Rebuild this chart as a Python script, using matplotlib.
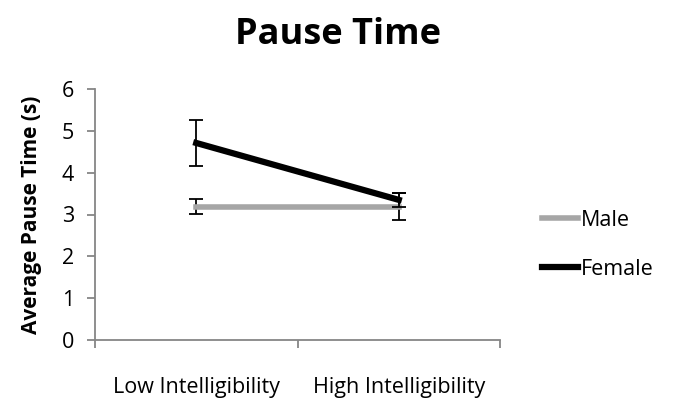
import matplotlib
matplotlib.use("Agg")
import matplotlib.pyplot as plt
from matplotlib.lines import Line2D

categories = ["Low Intelligibility", "High Intelligibility"]
male = [3.19, 3.19]
male_err = [0.18, 0.33]
female = [4.71, 3.35]
female_err = [0.56, 0.17]
yticks = [0, 1, 2, 3, 4, 5, 6]

plt.rcParams['font.family'] = ['Open Sans', 'DejaVu Sans']

fig = plt.figure(figsize=(6.81, 4.0), dpi=100)
ax = fig.add_axes([95/681, 1-340/400, 405/681, 251/400])

x = [0.5, 1.5]
grey = "#A6A6A6"
ax.errorbar(x, male, yerr=male_err, color=grey, lw=4, ecolor="black",
            elinewidth=1.3, capsize=5, capthick=1.3, zorder=3)
ax.errorbar(x, female, yerr=female_err, color="black", lw=4.5, ecolor="black",
            elinewidth=1.3, capsize=5, capthick=1.3, zorder=4)

ax.set_xlim(0, 2)
ax.set_ylim(0, 6)
ax.set_yticks(yticks)
ax.set_xticks([0, 1, 2])
ax.set_xticklabels([])
ax.set_xticks(x, minor=True)
ax.set_xticklabels(categories, minor=True, fontsize=15.5)
ax.tick_params(axis='x', which='minor', length=0, pad=27)
ax.tick_params(axis='x', which='major', length=6, width=1.3, color="#868686", direction='out')
ax.tick_params(axis='y', length=6, width=1.3, color="#868686", direction='out', labelsize=15.5, pad=9)
for s in ["top", "right"]:
    ax.spines[s].set_visible(False)
for s in ["left", "bottom"]:
    ax.spines[s].set_color("#868686")
    ax.spines[s].set_linewidth(1.3)

ax.set_ylabel("Average Pause Time (s)", fontsize=15, fontweight="bold", labelpad=14)
fig.text(338/681, 1-35/400, "Pause Time", ha="center", va="center",
         fontsize=26, fontweight="bold")

handles = [Line2D([], [], color=grey, lw=4), Line2D([], [], color="black", lw=4.5)]
leg = fig.legend(handles, ["Male", "Female"], loc="center left",
                 bbox_to_anchor=(523/681, 1-245/400),
                 frameon=False, fontsize=15.5, handlelength=1.65, handletextpad=0.12,
                 labelspacing=1.3)

fig.savefig("out.png", dpi=100)
